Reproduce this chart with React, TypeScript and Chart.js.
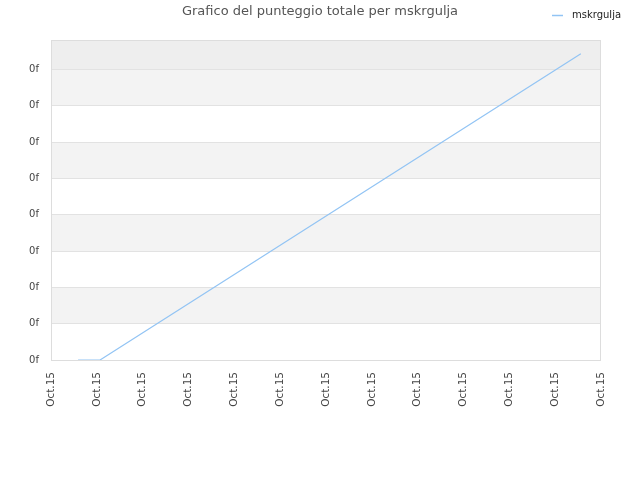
import React, { useEffect, useRef } from "react";
import { Chart, registerables } from "chart.js";

Chart.register(...registerables);

const titleText = "Grafico del punteggio totale per mskrgulja";
const seriesName = "mskrgulja";
const xTickLabel = "Oct.15";
const yTickLabel = "0f";
const xValues = [0.59, 1.07, 11.56];
const yValues = [0, 0, 8.43];

const FONT = "'DejaVu Sans', sans-serif";
const LINE = "#92c4f4";

const decorPlugin = {
  id: "decor",
  beforeDraw(chart: any) {
    const { ctx, chartArea, scales } = chart;
    const y = scales.y;
    ctx.save();
    const ticks = y.ticks.map((t: any) => t.value);
    for (let i = 0; i < ticks.length; i++) {
      const v0 = ticks[i];
      const v1 = i + 1 < ticks.length ? ticks[i + 1] : y.max;
      const p0 = y.getPixelForValue(v0);
      const p1 = y.getPixelForValue(v1);
      let color: string | null = null;
      if (i === ticks.length - 1) color = "#eeeeee";
      else if (i % 2 === 1) color = "#f3f3f3";
      if (color) {
        ctx.fillStyle = color;
        ctx.fillRect(chartArea.left, p1, chartArea.right - chartArea.left, p0 - p1);
      }
    }
    ctx.restore();
  },
  afterDraw(chart: any) {
    const { ctx, chartArea } = chart;
    ctx.save();
    ctx.strokeStyle = "#dddddd";
    ctx.lineWidth = 1;
    ctx.strokeRect(chartArea.left + 0.5, chartArea.top + 0.5, chartArea.right - chartArea.left - 1, chartArea.bottom - chartArea.top);
    ctx.fillStyle = "#555555";
    ctx.font = `13px ${FONT}`;
    ctx.textAlign = "center";
    ctx.textBaseline = "middle";
    ctx.fillText(titleText, 320, 12);
    ctx.strokeStyle = LINE;
    ctx.lineWidth = 1.5;
    ctx.beginPath();
    ctx.moveTo(552, 15.5);
    ctx.lineTo(563, 15.5);
    ctx.stroke();
    ctx.fillStyle = "#222222";
    ctx.font = `10px ${FONT}`;
    ctx.textAlign = "left";
    ctx.fillText(seriesName, 572, 15);
    ctx.restore();
  },
};

export default function App() {
  const ref = useRef<HTMLCanvasElement>(null);
  useEffect(() => {
    document.body.style.margin = "0";
    const chart = new Chart(ref.current!, {
      type: "line",
      data: {
        datasets: [
          {
            label: seriesName,
            data: xValues.map((x, i) => ({ x, y: yValues[i] })),
            borderColor: LINE,
            borderWidth: 1.2,
            pointRadius: 0,
            fill: false,
            tension: 0,
          },
        ],
      },
      options: {
        animation: false,
        responsive: false,
        layout: { padding: { top: 40, right: 39, left: 0, bottom: 0 } },
        plugins: { legend: { display: false }, title: { display: false }, tooltip: { enabled: false } },
        scales: {
          x: {
            type: "linear",
            min: 0,
            max: 12,
            ticks: {
              stepSize: 1,
              minRotation: 90,
              maxRotation: 90,
              autoSkip: false,
              padding: 12,
              color: "#444444",
              font: { family: FONT, size: 10.5 },
              callback: () => xTickLabel,
            },
            grid: { display: false, drawTicks: false },
            border: { display: false },
            afterFit: (s: any) => { s.height = 120; },
          },
          y: {
            type: "linear",
            min: 0,
            max: 8.81,
            afterBuildTicks: (s: any) => {
              s.ticks = s.ticks.filter((t: any) => Number.isInteger(t.value));
            },
            ticks: {
              stepSize: 1,
              padding: 12,
              color: "#444444",
              font: { family: FONT, size: 10 },
              callback: () => yTickLabel,
            },
            grid: { color: "#e2e2e2", drawTicks: false },
            border: { display: false },
            afterFit: (s: any) => { s.width = 51; },
          },
        },
      },
      plugins: [decorPlugin],
    });
    return () => chart.destroy();
  }, []);
  return (
    <div style={{ width: 640, height: 480 }}>
      <canvas ref={ref} width={640} height={480} style={{ display: "block" }} />
    </div>
  );
}
